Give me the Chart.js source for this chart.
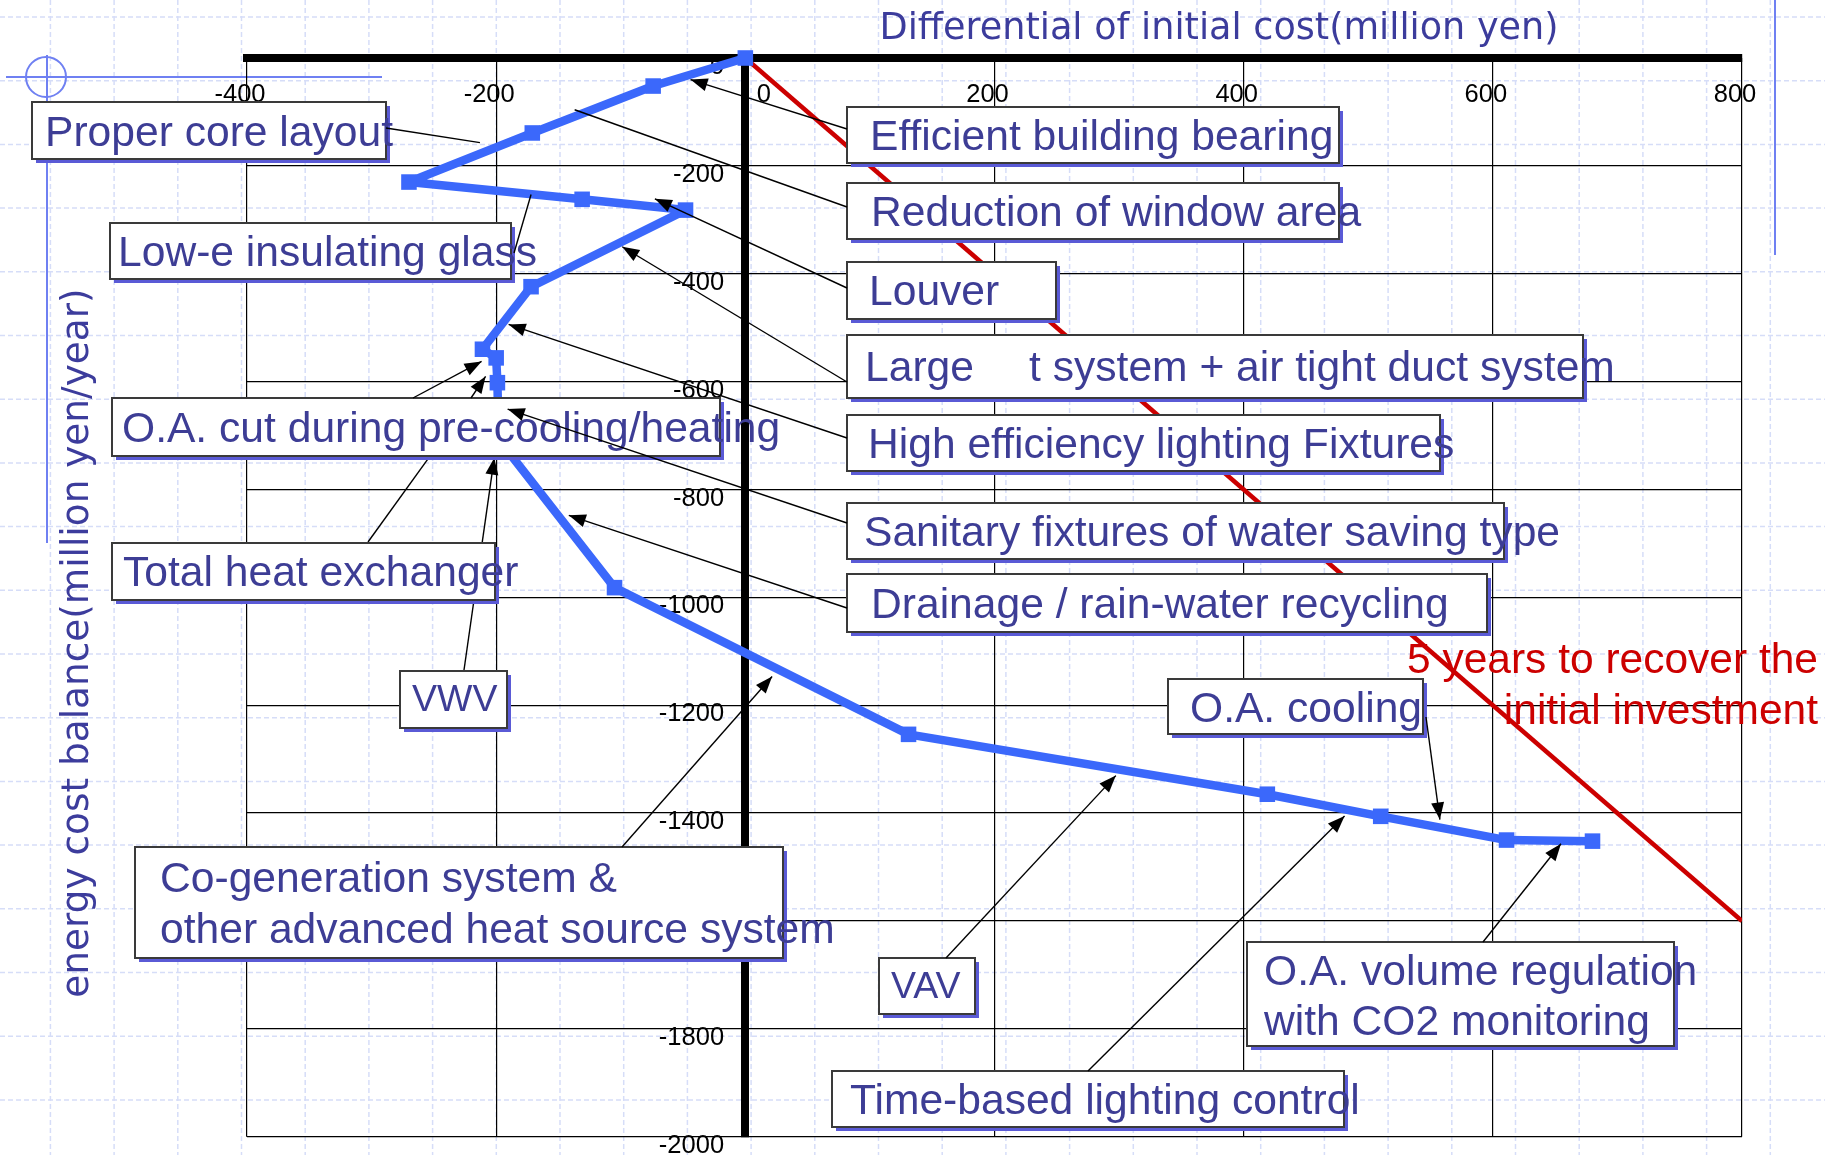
<!DOCTYPE html>
<html>
<head>
<meta charset="utf-8">
<title>Differential of initial cost vs energy cost balance</title>
<script src="https://cdn.jsdelivr.net/npm/chart.js@4.4.1/dist/chart.umd.min.js"></script>
<style>
  html, body { margin: 0; padding: 0; background: #fff; }
  #wrap { position: relative; width: 1825px; height: 1155px; }
</style>
</head>
<body>
<div id="wrap"><canvas id="chart" width="1825" height="1155"></canvas></div>
<script>
// cumulative path of the saving measures (million yen)
const costDiff    = [0, -74, -171, -270, -131, -48, -172, -211, -200, -199, -198, -105, 131, 419, 510, 611, 680];
const costBalance = [0, -52, -139, -230, -262, -282, -424, -540, -556, -602, -707, -982, -1254, -1365, -1406, -1450, -1452];

// 5 years payback line
const paybackCost    = [0, 800];
const paybackBalance = [0, -1600];

const xTicks = [-400, -200, 0, 200, 400, 600, 800];
const yTicks = [0, -200, -400, -600, -800, -1000, -1200, -1400, -1600, -1800, -2000];

const xTitle = 'Differential of initial cost(million yen)';
const yTitle = 'energy cost balance(million yen/year)';
const paybackNote = ['5 years to recover the', 'initial investment'];

const ARIAL = '"Liberation Sans", Arial, sans-serif';
const VERDANA = '"DejaVu Sans", Verdana, sans-serif';
const TEXT_BLUE = '#3d3d95';
const LINE_BLUE = '#3b68fb';
const LABEL_SIZE = 42.6;

// callout boxes: box/text in pixels, leader goes from a pixel on the box to a point in data units
const callouts = [
  { box: [32, 102, 386, 159], text: [[45, 146, 'Proper core layout']], from: [386, 128], to: [-213, -157], head: false },
  { box: [110, 223, 511, 279], text: [[118, 266, 'Low-e insulating glass']], from: [514, 253], to: [-172, -253], head: false },
  { box: [112, 543, 495, 600], text: [[123, 586, 'Total heat exchanger']], from: [368, 542], to: [-254, -741], head: false, under: true },
  { box: [400, 671, 507, 728], text: [[412, 711, 'VWV']], size: 37.5, from: [464, 670], to: [-201.5, -741], head: true, under: true },
  { box: [112, 398, 720, 456], text: [[122, 442, 'O.A. cut during pre-cooling/heating']], from: [413, 398], to: [-211.7, -562.6], head: true },
  { box: null, text: [], from: [471, 398], to: [-208.5, -590.3], head: true },
  { box: [135, 847, 783, 958], text: [[160, 892, 'Co-generation system &'], [160, 943, 'other advanced heat source system']], from: [622, 847], to: [21.5, -1146.6], head: true },
  { box: [847, 107, 1339, 163], text: [[870, 150, 'Efficient building bearing']], from: [847, 129], to: [-44, -40], head: true },
  { box: [847, 183, 1339, 239], text: [[871, 226, 'Reduction of window area']], from: [847, 207], to: [-137, -96], head: false },
  { box: [847, 262, 1056, 319], text: [[869, 305, 'Louver']], from: [847, 288], to: [-72.6, -261], head: true },
  { box: [847, 335, 1583, 398], text: [[865, 381, 'Large'], [1029, 381, 't system + air tight duct system']], from: [847, 382], to: [-98.8, -350], head: true },
  { box: [847, 415, 1440, 471], text: [[868, 458, 'High efficiency lighting Fixtures']], from: [847, 438], to: [-190, -494], head: true },
  { box: [847, 503, 1504, 559], text: [[864, 546, 'Sanitary fixtures of water saving type']], from: [847, 523], to: [-190.8, -651], head: true },
  { box: [847, 574, 1487, 632], text: [[871, 618, 'Drainage / rain-water recycling']], from: [847, 608], to: [-141.7, -848], head: true },
  { box: [1168, 679, 1423, 734], text: [[1190, 722, 'O.A. cooling']], from: [1426, 717], to: [557.5, -1412], head: true },
  { box: [879, 958, 975, 1014], text: [[891, 998, 'VAV']], size: 37.5, from: [946, 958], to: [297.4, -1330.5], head: true },
  { box: [832, 1071, 1344, 1127], text: [[850, 1114, 'Time-based lighting control']], from: [1088, 1071], to: [481, -1405.6], head: true },
  { box: [1247, 942, 1674, 1046], text: [[1264, 985, 'O.A. volume regulation'], [1264, 1035, 'with CO2 monitoring']], from: [1483, 942], to: [654.7, -1456.9], head: true }
];

function leader(ctx, chart, c) {
  const x2 = chart.scales.x.getPixelForValue(c.to[0]);
  const y2 = chart.scales.y.getPixelForValue(c.to[1]);
  const [x1, y1] = c.from;
  ctx.strokeStyle = '#000';
  ctx.fillStyle = '#000';
  ctx.lineWidth = 1.4;
  ctx.beginPath();
  ctx.moveTo(x1, y1);
  ctx.lineTo(x2, y2);
  ctx.stroke();
  if (!c.head) return;
  const a = Math.atan2(y2 - y1, x2 - x1), L = 17, W = 6.5;
  ctx.beginPath();
  ctx.moveTo(x2, y2);
  ctx.lineTo(x2 - L * Math.cos(a) + W * Math.sin(a), y2 - L * Math.sin(a) - W * Math.cos(a));
  ctx.lineTo(x2 - L * Math.cos(a) - W * Math.sin(a), y2 - L * Math.sin(a) + W * Math.cos(a));
  ctx.closePath();
  ctx.fill();
}

function calloutBox(ctx, c) {
  if (!c.box) return;
  const [x1, y1, x2, y2] = c.box;
  ctx.fillStyle = '#5a5ad6';
  ctx.fillRect(x1 + 4, y1 + 4, x2 - x1, y2 - y1);
  ctx.fillStyle = '#fff';
  ctx.fillRect(x1, y1, x2 - x1, y2 - y1);
  ctx.strokeStyle = '#3a3a3a';
  ctx.lineWidth = 2;
  ctx.strokeRect(x1, y1, x2 - x1, y2 - y1);
  ctx.fillStyle = TEXT_BLUE;
  ctx.font = (c.size || LABEL_SIZE) + 'px ' + ARIAL;
  ctx.textAlign = 'left';
  ctx.textBaseline = 'alphabetic';
  c.text.forEach(t => ctx.fillText(t[2], t[0], t[1]));
}

// slide background: dashed blue grid and template ornaments
const slidePlugin = {
  id: 'slide',
  beforeDraw(chart) {
    const ctx = chart.ctx, W = chart.width, H = chart.height;
    ctx.save();
    ctx.fillStyle = '#fff';
    ctx.fillRect(0, 0, W, H);
    ctx.strokeStyle = '#d6ddf8';
    ctx.lineWidth = 1.5;
    ctx.setLineDash([5, 3]);
    for (let x = 50.4; x < W; x += 63.7) {
      ctx.beginPath(); ctx.moveTo(x, 0); ctx.lineTo(x, H); ctx.stroke();
    }
    for (let y = 17; y < H; y += 63.7) {
      ctx.beginPath(); ctx.moveTo(0, y); ctx.lineTo(W, y); ctx.stroke();
    }
    ctx.setLineDash([]);
    ctx.strokeStyle = '#6f80f2';
    ctx.lineWidth = 2;
    ctx.beginPath(); ctx.moveTo(6, 77); ctx.lineTo(382, 77); ctx.stroke();
    ctx.beginPath(); ctx.moveTo(47, 55); ctx.lineTo(47, 543); ctx.stroke();
    ctx.beginPath(); ctx.arc(46, 77, 20, 0, Math.PI * 2); ctx.stroke();
    ctx.beginPath(); ctx.moveTo(1775, 0); ctx.lineTo(1775, 255); ctx.stroke();
    ctx.restore();
  }
};

const calloutPlugin = {
  id: 'callouts',
  afterDatasetsDraw(chart) {
    const ctx = chart.ctx;
    ctx.save();
    callouts.filter(c => c.under).forEach(c => leader(ctx, chart, c));
    callouts.forEach(c => calloutBox(ctx, c));
    callouts.filter(c => !c.under).forEach(c => leader(ctx, chart, c));

    ctx.fillStyle = '#cc0000';
    ctx.font = '42.5px ' + ARIAL;
    ctx.textAlign = 'right';
    ctx.fillText(paybackNote[0], 1818, 673);
    ctx.fillText(paybackNote[1], 1818, 724);

    ctx.fillStyle = '#3c3c9c';
    ctx.font = '36.6px ' + VERDANA;
    ctx.textAlign = 'center';
    ctx.fillText(xTitle, 1219, 39);
    ctx.font = '37.4px ' + VERDANA;
    ctx.translate(88, 643);
    ctx.rotate(-Math.PI / 2);
    ctx.fillText(yTitle, 0, 0);
    ctx.restore();
  }
};

new Chart(document.getElementById('chart'), {
  type: 'scatter',
  data: {
    datasets: [
      {
        label: 'measures',
        data: costDiff.map((v, i) => ({ x: v, y: costBalance[i] })),
        showLine: true,
        borderColor: LINE_BLUE,
        backgroundColor: LINE_BLUE,
        borderWidth: 8.5,
        borderJoinStyle: 'bevel',
        pointStyle: 'rect',
        pointRadius: 11,
        pointBorderWidth: 0,
        clip: false
      },
      {
        label: 'payback',
        data: paybackCost.map((v, i) => ({ x: v, y: paybackBalance[i] })),
        showLine: true,
        borderColor: '#cc0000',
        borderWidth: 4.5,
        pointRadius: 0
      }
    ]
  },
  options: {
    responsive: false,
    animation: false,
    layout: { padding: { left: 247, right: 83, top: 58, bottom: 17 } },
    plugins: { legend: { display: false }, tooltip: { enabled: false } },
    scales: {
      x: {
        type: 'linear',
        position: { y: 0 },
        min: -400,
        max: 800,
        afterBuildTicks: s => { s.ticks = xTicks.map(v => ({ value: v })); },
        grid: { color: '#000', lineWidth: 1.2, drawTicks: false },
        border: { color: '#000', width: 8 },
        ticks: {
          color: '#000',
          font: { family: ARIAL, size: 25.5 },
          padding: 22,
          labelOffset: -7,
          maxRotation: 0,
          autoSkip: false,
          callback: v => v === 0 ? '\u2003\u20030' : String(v)
        }
      },
      y: {
        type: 'linear',
        position: { x: 0 },
        min: -2000,
        max: 0,
        afterBuildTicks: s => { s.ticks = yTicks.map(v => ({ value: v })); },
        grid: { color: '#000', lineWidth: 1.2, drawTicks: false },
        border: { color: '#000', width: 8 },
        ticks: {
          color: '#000',
          font: { family: ARIAL, size: 25.5 },
          labelOffset: 9,
          autoSkip: false,
          callback: v => String(v) + '\u2002\u2004'
        }
      }
    }
  },
  plugins: [slidePlugin, calloutPlugin]
});
</script>
</body>
</html>
